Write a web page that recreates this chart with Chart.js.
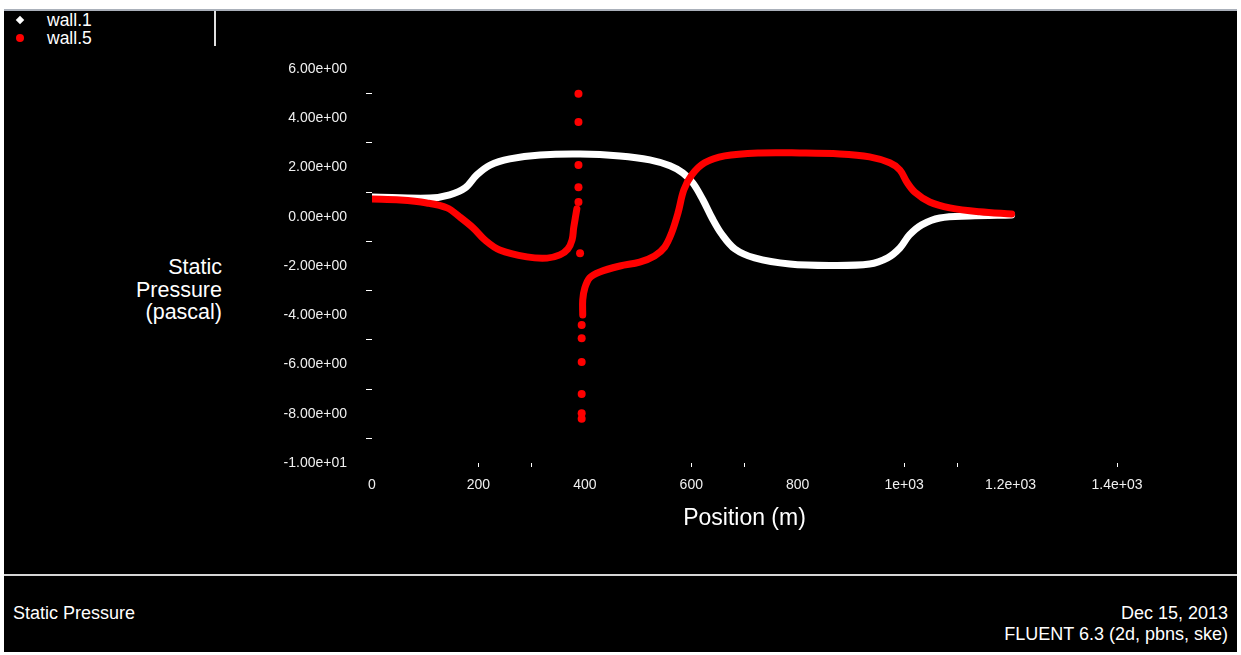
<!DOCTYPE html>
<html>
<head>
<meta charset="utf-8">
<script src="https://cdn.jsdelivr.net/npm/chart.js@4.4.1/dist/chart.umd.min.js"></script>
<style>
  body { margin: 0; background: #fff; width: 1241px; height: 655px; overflow: hidden; font-family: "Liberation Sans", Arial, sans-serif; }
  #frame { position: absolute; left: 4px; top: 9px; width: 1233px; height: 643px; background: #000; border-top: 2px solid #aab0ba; box-sizing: border-box; }
  #sep { position: absolute; left: 4px; top: 574px; width: 1233px; height: 2px; background: #d4d4d4; }
  #legend { position: absolute; left: 4px; top: 11px; width: 210px; height: 35px; border-right: 2px solid #e0e0e0; }
  .lg-item { position: absolute; left: 43px; color: #fff; font-size: 17.5px; line-height: 18px; }
  .mk { position: absolute; }
  .txt { position: absolute; color: #fff; white-space: nowrap; }
  #chart { position: absolute; left: 0; top: 0; }
</style>
</head>
<body>
<div id="frame"></div>
<div id="sep"></div>
<div id="legend">
  <span class="mk" style="left:13px;top:6px;width:6px;height:6px;background:#fff;transform:rotate(45deg);"></span>
  <span class="lg-item" style="top:0px;">wall.1</span>
  <span class="mk" style="left:12px;top:23px;width:8px;height:8px;background:#f00;border-radius:50%;"></span>
  <span class="lg-item" style="top:18px;">wall.5</span>
</div>
<div class="txt" style="left:122px;top:256px;width:100px;text-align:right;font-size:21.5px;line-height:22.5px;">Static<br>Pressure<br>(pascal)</div>
<div class="txt" style="left:13px;top:603px;font-size:18px;">Static Pressure</div>
<div class="txt" style="right:13px;top:603px;font-size:18px;text-align:right;">Dec 15, 2013</div>
<div class="txt" style="right:13px;top:624px;font-size:18px;text-align:right;">FLUENT 6.3 (2d, pbns, ske)</div>
<canvas id="chart" width="1241" height="655"></canvas>
<script>
// --- data: position (m) vs static pressure (pascal) ---
const wall1X = [0, 109, 146, 175, 197, 222, 259, 316, 391, 466, 522, 560, 584, 603, 622, 639, 657, 682, 719, 785, 860, 935, 969, 992, 1010, 1033, 1067, 1123, 1202];
const wall1Y = [0.8, 0.76, 0.89, 1.17, 1.7, 2.1, 2.35, 2.51, 2.55, 2.47, 2.31, 2.07, 1.78, 1.37, 0.68, -0.05, -0.7, -1.31, -1.67, -1.92, -1.98, -1.92, -1.67, -1.27, -0.74, -0.33, -0.05, 0.03, 0.07];

// wall.5 upstream branch (up to the step)
const wall5aX = [0, 53, 103, 141, 165, 190, 212, 240, 291, 329, 353, 368, 376, 379, 383, 385];
const wall5aY = [0.72, 0.68, 0.56, 0.36, -0.01, -0.45, -0.94, -1.35, -1.63, -1.68, -1.55, -1.31, -0.94, -0.45, 0.07, 0.32];

// wall.5 isolated points at the singular corner
const wall5SpikeX = [388, 388, 388, 388, 388, 391, 394, 394, 394, 394, 394, 394];
const wall5SpikeY = [4.99, 3.85, 2.1, 1.2, 0.6, -1.48, -4.4, -4.93, -5.9, -7.2, -7.98, -8.2];

// wall.5 downstream branch
const wall5bX = [396, 396, 400, 409, 428, 466, 503, 531, 550, 563, 575, 586, 601, 625, 663, 729, 804, 879, 935, 973, 992, 1005, 1020, 1048, 1086, 1142, 1202];
const wall5bY = [-3.99, -3.38, -2.89, -2.48, -2.24, -2.0, -1.84, -1.59, -1.23, -0.66, 0.15, 1.09, 1.7, 2.19, 2.47, 2.59, 2.59, 2.55, 2.43, 2.19, 1.9, 1.41, 1.0, 0.6, 0.36, 0.2, 0.11];

// --- axis ticks ---
const xTickValues = [0, 200, 400, 600, 800, 1000, 1200, 1400];
const xTickLabels = ['0', '200', '400', '600', '800', '1e+03', '1.2e+03', '1.4e+03'];
const xTickMarks = [200, 300, 600, 700, 1000, 1100, 1400];
const yTickValues = [6, 4, 2, 0, -2, -4, -6, -8, -10];
const yTickLabels = ['6.00e+00', '4.00e+00', '2.00e+00', '0.00e+00', '-2.00e+00', '-4.00e+00', '-6.00e+00', '-8.00e+00', '-1.00e+01'];
const yTickMarks = [5, 3, 1, -1, -3, -5, -7, -9];

const toPoints = (xs, ys) => xs.map((x, i) => ({ x, y: ys[i] }));

const tickFont = { family: 'Liberation Sans', size: 14 };

new Chart(document.getElementById('chart'), {
  type: 'scatter',
  data: {
    datasets: [
      {
        label: 'wall.1',
        data: toPoints(wall1X, wall1Y),
        showLine: true,
        borderColor: '#ffffff',
        borderWidth: 7,
        borderCapStyle: 'round',
        pointRadius: 0,
        tension: 0.35,
        order: 3
      },
      {
        label: 'wall.5',
        data: toPoints(wall5aX, wall5aY),
        showLine: true,
        borderColor: '#ff0000',
        borderWidth: 7,
        borderCapStyle: 'round',
        pointRadius: 0,
        tension: 0.35,
        order: 1
      },
      {
        label: 'wall.5 corner',
        data: toPoints(wall5SpikeX, wall5SpikeY),
        showLine: false,
        backgroundColor: '#ff0000',
        borderWidth: 0,
        pointRadius: 4,
        order: 1
      },
      {
        label: 'wall.5 downstream',
        data: toPoints(wall5bX, wall5bY),
        showLine: true,
        borderColor: '#ff0000',
        borderWidth: 7,
        borderCapStyle: 'round',
        pointRadius: 0,
        tension: 0.35,
        order: 1
      }
    ]
  },
  options: {
    responsive: false,
    animation: false,
    layout: { padding: { left: 0, top: 69, right: 124, bottom: 120 } },
    plugins: { legend: { display: false }, tooltip: { enabled: false } },
    scales: {
      x: {
        type: 'linear',
        min: 0,
        max: 1400,
        afterFit: s => { s.height = 72; },
        border: { display: false },
        grid: {
          drawOnChartArea: false,
          tickLength: 4,
          tickWidth: 1,
          tickColor: ctx => xTickMarks.includes(ctx.tick.value) ? '#ffffff' : 'rgba(0,0,0,0)'
        },
        ticks: {
          stepSize: 100,
          autoSkip: false,
          maxRotation: 0,
          padding: 10,
          color: '#f0f0f0',
          font: tickFont,
          callback: v => {
            const i = xTickValues.indexOf(v);
            return i >= 0 ? xTickLabels[i] : '';
          }
        },
        title: {
          display: true,
          text: 'Position (m)',
          color: '#ffffff',
          font: { family: 'Liberation Sans', size: 23 },
          padding: { top: 4, bottom: 3 }
        }
      },
      y: {
        type: 'linear',
        min: -10,
        max: 6,
        afterFit: s => { s.width = 372; },
        border: { display: false },
        grid: {
          drawOnChartArea: false,
          tickLength: 6,
          tickWidth: 1,
          tickColor: ctx => yTickMarks.includes(ctx.tick.value) ? '#ffffff' : 'rgba(0,0,0,0)'
        },
        ticks: {
          stepSize: 1,
          autoSkip: false,
          padding: 19,
          color: '#f0f0f0',
          font: tickFont,
          callback: v => {
            const i = yTickValues.indexOf(v);
            return i >= 0 ? yTickLabels[i] : '';
          }
        }
      }
    }
  }
});
</script>
</body>
</html>
